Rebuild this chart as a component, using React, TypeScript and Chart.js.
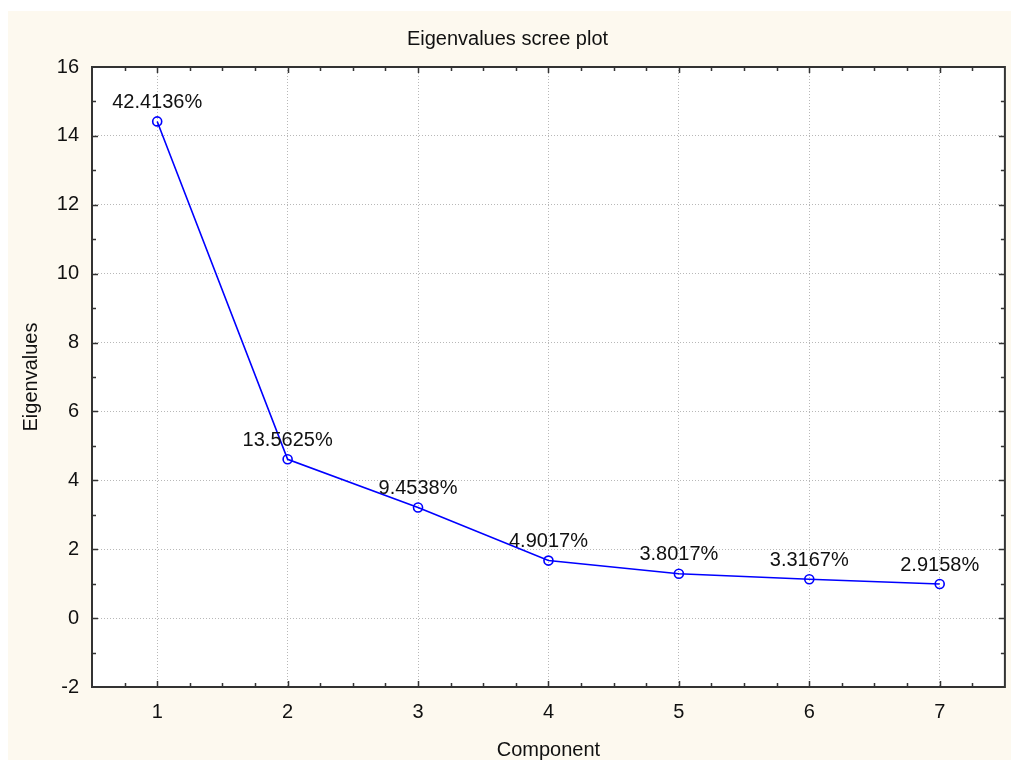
import React, { useEffect, useRef } from "react";
import { Chart, registerables } from "chart.js";

Chart.register(...registerables);

const components = [1, 2, 3, 4, 5, 6, 7];
const eigenvalues = [14.42, 4.61, 3.21, 1.67, 1.29, 1.13, 0.99];
const percentLabels = ["42.4136%", "13.5625%", "9.4538%", "4.9017%", "3.8017%", "3.3167%", "2.9158%"];
const xMinorStep = 0.25;
const yMinorStep = 1;

const FONT = '"Liberation Sans", Arial, sans-serif';
const TEXT = "#111111";

const framePlugin = {
  id: "frame",
  beforeDraw(chart: any) {
    const { ctx, chartArea: a } = chart;
    ctx.save();
    ctx.fillStyle = "#ffffff";
    ctx.fillRect(a.left, a.top, a.right - a.left, a.bottom - a.top);
    ctx.restore();
  },
  afterDatasetsDraw(chart: any) {
    const { ctx } = chart;
    const meta = chart.getDatasetMeta(0);
    ctx.save();
    ctx.fillStyle = TEXT;
    ctx.font = `20px ${FONT}`;
    ctx.textAlign = "center";
    ctx.textBaseline = "middle";
    meta.data.forEach((pt: any, i: number) => {
      ctx.fillText(percentLabels[i], pt.x, pt.y - 19);
    });
    ctx.restore();
  },
  afterDraw(chart: any) {
    const { ctx, chartArea: a, scales } = chart;
    const xs = scales.x;
    const ys = scales.y;
    ctx.save();
    ctx.strokeStyle = "#333333";
    ctx.lineWidth = 1.5;
    ctx.beginPath();
    const xmin = xs.min, xmax = xs.max;
    const nX = Math.round((xmax - xmin) / xMinorStep);
    for (let k = 1; k < nX; k++) {
      const v = xmin + k * xMinorStep;
      const major = Math.abs(v - Math.round(v)) < 1e-6;
      const len = major ? 6 : 4;
      const px = Math.round(xs.getPixelForValue(v)) + 0.5;
      ctx.moveTo(px, a.bottom);
      ctx.lineTo(px, a.bottom - len);
      ctx.moveTo(px, a.top);
      ctx.lineTo(px, a.top + len);
    }
    const ymin = ys.min, ymax = ys.max;
    const nY = Math.round((ymax - ymin) / yMinorStep);
    for (let k = 1; k < nY; k++) {
      const v = ymin + k * yMinorStep;
      const major = Math.abs(v / 2 - Math.round(v / 2)) < 1e-6;
      const len = major ? 6 : 4;
      const py = Math.round(ys.getPixelForValue(v)) + 0.5;
      ctx.moveTo(a.left, py);
      ctx.lineTo(a.left + len, py);
      ctx.moveTo(a.right, py);
      ctx.lineTo(a.right - len, py);
    }
    ctx.stroke();
    ctx.lineWidth = 2;
    ctx.strokeRect(a.left, a.top, a.right - a.left, a.bottom - a.top);
    ctx.restore();
  },
};

export default function App() {
  const ref = useRef<HTMLCanvasElement | null>(null);

  useEffect(() => {
    if (!ref.current) return;
    const chart = new Chart(ref.current, {
      type: "line",
      data: {
        datasets: [
          {
            data: components.map((c, i) => ({ x: c, y: eigenvalues[i] })),
            borderColor: "#0000ff",
            borderWidth: 1.6,
            pointRadius: 4.5,
            pointBorderWidth: 1.6,
            pointBorderColor: "#0000ff",
            pointBackgroundColor: "rgba(255,255,255,0)",
            tension: 0,
            fill: false,
          },
        ],
      },
      options: {
        animation: false,
        responsive: false,
        events: [],
        layout: { padding: { left: 0, top: 0, bottom: 0, right: 4 } },
        plugins: {
          legend: { display: false },
          tooltip: { enabled: false },
          title: {
            display: true,
            text: "Eigenvalues scree plot",
            color: TEXT,
            font: { family: FONT, size: 20, weight: "normal", lineHeight: 1.2 },
            padding: { top: 16, bottom: 16 },
          },
        },
        scales: {
          x: {
            type: "linear",
            min: 0.5,
            max: 7.5,
            afterBuildTicks: (s: any) => {
              s.ticks = components.map((v) => ({ value: v }));
            },
            afterFit: (s: any) => {
              s.height = 73;
            },
            ticks: {
              color: TEXT,
              font: { family: FONT, size: 20, lineHeight: 1.2 },
              padding: 13,
              maxRotation: 0,
              autoSkip: false,
              callback: (v: any) => String(v),
            },
            grid: { color: "#b8b8b8", lineWidth: 1, drawTicks: false },
            border: { display: false, dash: [1, 2] },
            title: {
              display: true,
              text: "Component",
              color: TEXT,
              font: { family: FONT, size: 20, lineHeight: 1 },
              padding: { top: 0, bottom: 0 },
            },
          },
          y: {
            min: -2,
            max: 16,
            afterFit: (s: any) => {
              s.width = 84;
            },
            ticks: {
              stepSize: 2,
              color: TEXT,
              font: { family: FONT, size: 20, lineHeight: 1.2 },
              padding: 13,
            },
            grid: { color: "#b8b8b8", lineWidth: 1, drawTicks: false },
            border: { display: false, dash: [1, 2] },
            title: {
              display: true,
              text: "Eigenvalues",
              color: TEXT,
              font: { family: FONT, size: 20, lineHeight: 1 },
              padding: { top: 13, bottom: 0 },
            },
          },
        },
      },
      plugins: [framePlugin],
    } as any);
    return () => chart.destroy();
  }, []);

  return (
    <div style={{ position: "absolute", left: 8, top: 11, width: 1003, height: 749, background: "#fdf9ef" }}>
      <canvas ref={ref} width={1003} height={749} style={{ display: "block", width: 1003, height: 749 }} />
    </div>
  );
}
